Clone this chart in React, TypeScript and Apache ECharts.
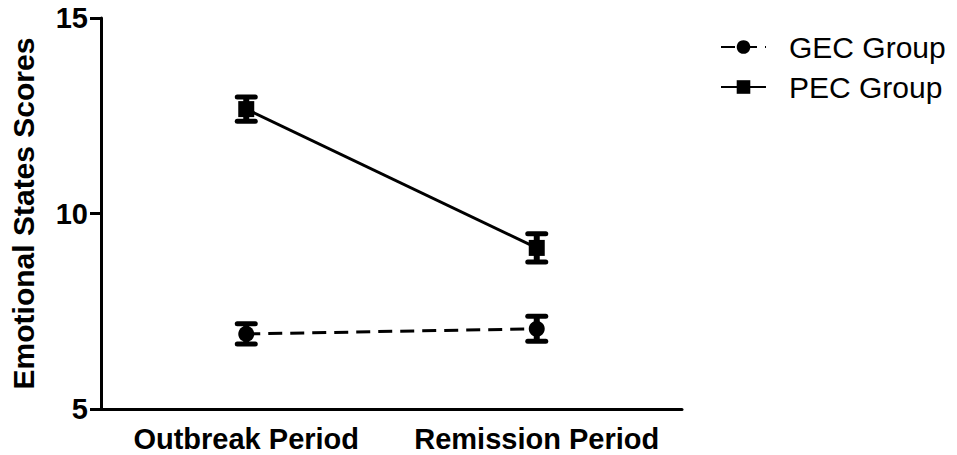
import React, { useEffect, useRef } from "react";
import * as echarts from "echarts";

const categories = ["Outbreak Period", "Remission Period"];
const gecMean = [6.92, 7.05];
const gecErr = [0.26, 0.32];
const pecMean = [12.67, 9.12];
const pecErr = [0.31, 0.36];
const yTicks = [5, 10, 15];

const FONT = "Liberation Sans, Arial, sans-serif";

function errorSeries(name: string, mean: number[], err: number[]) {
  return {
    type: "custom",
    name: name + "-err",
    silent: true,
    z: 3,
    data: mean.map((m, i) => [i, m - err[i], m + err[i]]),
    renderItem: (params: any, api: any) => {
      const i = api.value(0);
      const lo = api.coord([i, api.value(1)]);
      const hi = api.coord([i, api.value(2)]);
      const hw = 9;
      const style = { stroke: "#000", lineWidth: 5, lineCap: "round" };
      return {
        type: "group",
        children: [
          { type: "line", shape: { x1: lo[0], y1: lo[1], x2: hi[0], y2: hi[1] }, style: { stroke: "#000", lineWidth: 6 } },
          { type: "line", shape: { x1: lo[0] - hw, y1: lo[1], x2: lo[0] + hw, y2: lo[1] }, style },
          { type: "line", shape: { x1: hi[0] - hw, y1: hi[1], x2: hi[0] + hw, y2: hi[1] }, style },
        ],
      };
    },
  };
}

export default function App() {
  const ref = useRef<HTMLDivElement>(null);
  useEffect(() => {
    if (!ref.current) return;
    const chart = echarts.init(ref.current, null, { renderer: "svg" });
    chart.setOption({
      animation: false,
      backgroundColor: "#fff",
      grid: { left: 95, top: 18, right: 275, bottom: 46, containLabel: false },
      legend: {
        orient: "vertical",
        left: 715,
        top: 27,
        itemGap: 10,
        itemWidth: 45,
        itemHeight: 17,
        data: ["GEC Group", "PEC Group"],
        textStyle: { fontFamily: FONT, fontSize: 30, color: "#000", padding: [0, 0, 0, 18] },
      },
      xAxis: {
        type: "category",
        data: categories,
        boundaryGap: true,
        axisLine: { lineStyle: { color: "#000", width: 3 } },
        axisTick: { alignWithLabel: true, interval: 0, length: 12, lineStyle: { width: 3, color: "#000" } },
        axisLabel: { interval: 0, hideOverlap: false, margin: 15, fontFamily: FONT, fontSize: 29, fontWeight: "bold", color: "#000" },
        splitLine: { show: false },
      },
      yAxis: {
        type: "value",
        min: yTicks[0],
        max: yTicks[yTicks.length - 1],
        interval: 5,
        name: "Emotional States Scores",
        nameLocation: "middle",
        nameGap: 63,
        nameTextStyle: { fontFamily: FONT, fontSize: 30, fontWeight: "bold", color: "#000" },
        axisLine: { show: true, lineStyle: { color: "#000", width: 3 } },
        axisTick: { show: true, length: 11, lineStyle: { width: 3, color: "#000" } },
        axisLabel: { margin: 13, fontFamily: FONT, fontSize: 29, fontWeight: "bold", color: "#000" },
        splitLine: { show: false },
      },
      series: [
        {
          name: "GEC Group",
          type: "line",
          data: gecMean,
          symbol: "circle",
          symbolSize: 16,
          z: 4,
          itemStyle: { color: "#000" },
          lineStyle: { color: "#000", width: 3, type: [14, 8] },
        },
        {
          name: "PEC Group",
          type: "line",
          data: pecMean,
          symbol: "rect",
          symbolSize: 16,
          z: 4,
          itemStyle: { color: "#000" },
          lineStyle: { color: "#000", width: 3, type: "solid" },
        },
        errorSeries("GEC Group", gecMean, gecErr),
        errorSeries("PEC Group", pecMean, pecErr),
      ],
    });
    return () => chart.dispose();
  }, []);
  return <div ref={ref} style={{ position: "fixed", left: 0, top: 0, width: 957, height: 455 }} />;
}
